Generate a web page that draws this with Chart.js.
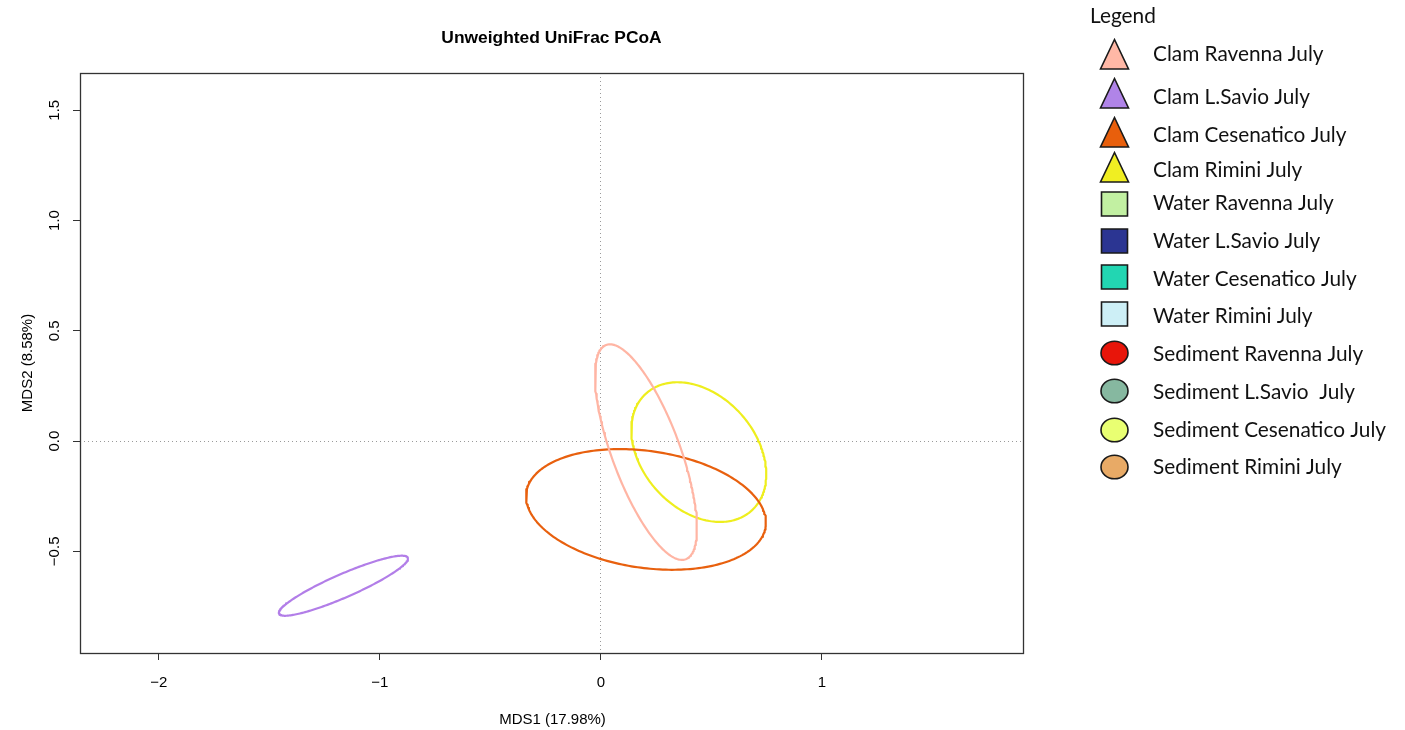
<!DOCTYPE html>
<html>
<head>
<meta charset="utf-8">
<script src="https://cdn.jsdelivr.net/npm/chart.js@4.4.1/dist/chart.umd.min.js"></script>
<style>
  html, body { margin: 0; padding: 0; background: #ffffff; }
  #wrap { width: 1405px; height: 730px; position: relative; }
</style>
</head>
<body>
<div id="wrap"><canvas id="pcoa" width="1405" height="730"></canvas></div>
<script>
// Sample groups shown in the legend
const groupLabels = [
  'Clam Ravenna July', 'Clam L.Savio July', 'Clam Cesenatico July', 'Clam Rimini July',
  'Water Ravenna July', 'Water L.Savio July', 'Water Cesenatico July', 'Water Rimini July',
  'Sediment Ravenna July', 'Sediment L.Savio  July', 'Sediment Cesenatico July', 'Sediment Rimini July'
];
const groupColors = [
  '#FFB8A6', '#B084E8', '#E85F0C', '#F0EE22',
  '#C2F0A2', '#2B3592', '#22D6B2', '#CDEFF6',
  '#E8150A', '#86B8A0', '#E9FF72', '#E8AA66'
];
const groupShapes = [
  'triangle', 'triangle', 'triangle', 'triangle',
  'rect', 'rect', 'rect', 'rect',
  'circle', 'circle', 'circle', 'circle'
];

// 95% confidence ellipses of the clam groups on MDS1/MDS2:
// centre, semi-axes and rotation (degrees from the MDS1 axis)
const ellipseGroups = ['Clam Ravenna July', 'Clam L.Savio July', 'Clam Cesenatico July', 'Clam Rimini July'];
const ellipseCenterX = [0.204, -1.165, 0.204, 0.443];
const ellipseCenterY = [-0.050, -0.656, -0.310, -0.050];
const ellipseSemiMajor = [0.518, 0.318, 0.547, 0.357];
const ellipseSemiMinor = [0.154, 0.053, 0.265, 0.257];
const ellipseAngle = [110.3, 23.6, -8.2, 131.7];
const ellipseColors = ['#FFB5A4', '#B27EE8', '#E8600E', '#EEEE1E'];

// Axis ticks and ranges
const xTicks = [-2, -1, 0, 1];
const yTicks = [-0.5, 0.0, 0.5, 1.0, 1.5];
const yTickLabels = ['\u22120.5', '0.0', '0.5', '1.0', '1.5'];
const xRange = [-2.357, 1.910];
const yRange = [-0.961, 1.669];

const chartTitle = 'Unweighted UniFrac PCoA';
const xTitle = 'MDS1 (17.98%)';
const yTitle = 'MDS2 (8.58%)';
const legendTitle = 'Legend';

// Outline of an ellipse as a closed polyline in data coordinates
function ellipseOutline(cx, cy, a, b, deg) {
  const t = deg * Math.PI / 180;
  const ct = Math.cos(t), st = Math.sin(t);
  const pts = [];
  const n = 240;
  for (let i = 0; i <= n; i++) {
    const u = 2 * Math.PI * i / n;
    const ex = a * Math.cos(u), ey = b * Math.sin(u);
    pts.push({ x: cx + ex * ct - ey * st, y: cy + ex * st + ey * ct });
  }
  return pts;
}

const fmt = v => (Math.abs(v) < 1e-9 ? '0' : String(v)).replace('-', '\u2212');

const datasets = ellipseGroups.map((g, i) => ({
  label: g,
  data: ellipseOutline(ellipseCenterX[i], ellipseCenterY[i], ellipseSemiMajor[i], ellipseSemiMinor[i], ellipseAngle[i]),
  showLine: true,
  borderColor: ellipseColors[i],
  borderWidth: 2.2,
  borderJoinStyle: 'round',
  borderCapStyle: 'round',
  pointRadius: 0,
  pointHoverRadius: 0,
  fill: false,
  tension: 0
}));

const AXIS_FONT = '"Liberation Sans", Arial, sans-serif';
const LEGEND_FONT = 'Lato, "Open Sans", sans-serif';

const decorations = {
  id: 'decorations',
  afterDraw(chart) {
    const ctx = chart.ctx;
    const area = chart.chartArea;
    const ys = chart.scales.y;
    ctx.save();

    // plot frame
    ctx.strokeStyle = '#333333';
    ctx.lineWidth = 1.3;
    ctx.strokeRect(area.left + 0.5, area.top + 0.5, area.right - area.left, area.bottom - area.top);

    ctx.fillStyle = '#000000';
    // main title
    ctx.font = 'bold 17.4px ' + AXIS_FONT;
    ctx.textAlign = 'center';
    ctx.textBaseline = 'alphabetic';
    ctx.fillText(chartTitle, (area.left + area.right) / 2, 43);

    // x axis title
    ctx.font = '15px ' + AXIS_FONT;
    ctx.fillText(xTitle, (area.left + area.right) / 2 + 1, 724);

    // y tick labels, written vertically
    yTicks.forEach((v, i) => {
      const py = ys.getPixelForValue(v);
      ctx.save();
      ctx.translate(59, py);
      ctx.rotate(-Math.PI / 2);
      ctx.textAlign = 'center';
      ctx.fillText(yTickLabels[i], 0, 0);
      ctx.restore();
    });

    // y axis title
    ctx.save();
    ctx.translate(32, (area.top + area.bottom) / 2);
    ctx.rotate(-Math.PI / 2);
    ctx.textAlign = 'center';
    ctx.fillText(yTitle, 0, 0);
    ctx.restore();

    // legend
    ctx.fillStyle = '#111111';
    ctx.font = '20.8px ' + LEGEND_FONT;
    ctx.textAlign = 'left';
    ctx.textBaseline = 'middle';
    ctx.fillText(legendTitle, 1090, 16);

    const symY = [54, 93, 132, 167, 204, 241, 277, 314, 353, 391, 430, 467];
    const textY = [54, 97, 135, 170, 203, 241, 279, 316, 354, 392, 430, 467];
    const symX = 1114.5;
    groupLabels.forEach((label, i) => {
      const y = symY[i];
      ctx.beginPath();
      if (groupShapes[i] === 'triangle') {
        ctx.moveTo(symX, y - 14.5);
        ctx.lineTo(symX + 14, y + 15);
        ctx.lineTo(symX - 14, y + 15);
        ctx.closePath();
      } else if (groupShapes[i] === 'rect') {
        ctx.rect(symX - 13, y - 12, 26, 24);
      } else {
        ctx.ellipse(symX, y, 13.5, 11.7, 0, 0, Math.PI * 2);
      }
      ctx.fillStyle = groupColors[i];
      ctx.fill();
      ctx.lineWidth = 1.6;
      ctx.lineJoin = 'miter';
      ctx.strokeStyle = '#1a1a1a';
      ctx.stroke();

      ctx.fillStyle = '#111111';
      ctx.fillText(label, 1153, textY[i]);
    });

    ctx.restore();
  }
};

new Chart(document.getElementById('pcoa'), {
  type: 'scatter',
  data: { datasets },
  options: {
    responsive: false,
    animation: false,
    events: [],
    layout: { padding: { left: 0, top: 73, right: 382, bottom: 0 } },
    plugins: {
      legend: { display: false },
      title: { display: false },
      tooltip: { enabled: false }
    },
    scales: {
      x: {
        type: 'linear',
        min: xRange[0],
        max: xRange[1],
        afterBuildTicks: s => { s.ticks = xTicks.map(v => ({ value: v })); },
        afterFit: s => { s.height = 77; },
        ticks: {
          callback: v => fmt(v),
          color: '#000000',
          font: { family: AXIS_FONT, size: 15 },
          padding: 14,
          maxRotation: 0,
          autoSkip: false
        },
        grid: {
          drawOnChartArea: true,
          drawTicks: true,
          tickLength: 7,
          tickColor: '#333333',
          tickWidth: 1,
          lineWidth: 1,
          color: c => (c.tick && c.tick.value === 0) ? '#9a9a9a' : 'rgba(0,0,0,0)'
        },
        border: { display: false, dash: [1, 3] }
      },
      y: {
        type: 'linear',
        min: yRange[0],
        max: yRange[1],
        afterBuildTicks: s => { s.ticks = yTicks.map(v => ({ value: v })); },
        afterFit: s => { s.width = 80; },
        ticks: { display: false },
        grid: {
          drawOnChartArea: true,
          drawTicks: true,
          tickLength: 7,
          tickColor: '#333333',
          tickWidth: 1,
          lineWidth: 1,
          color: c => (c.tick && c.tick.value === 0) ? '#9a9a9a' : 'rgba(0,0,0,0)'
        },
        border: { display: false, dash: [1, 3] }
      }
    }
  },
  plugins: [decorations]
});
</script>
</body>
</html>
